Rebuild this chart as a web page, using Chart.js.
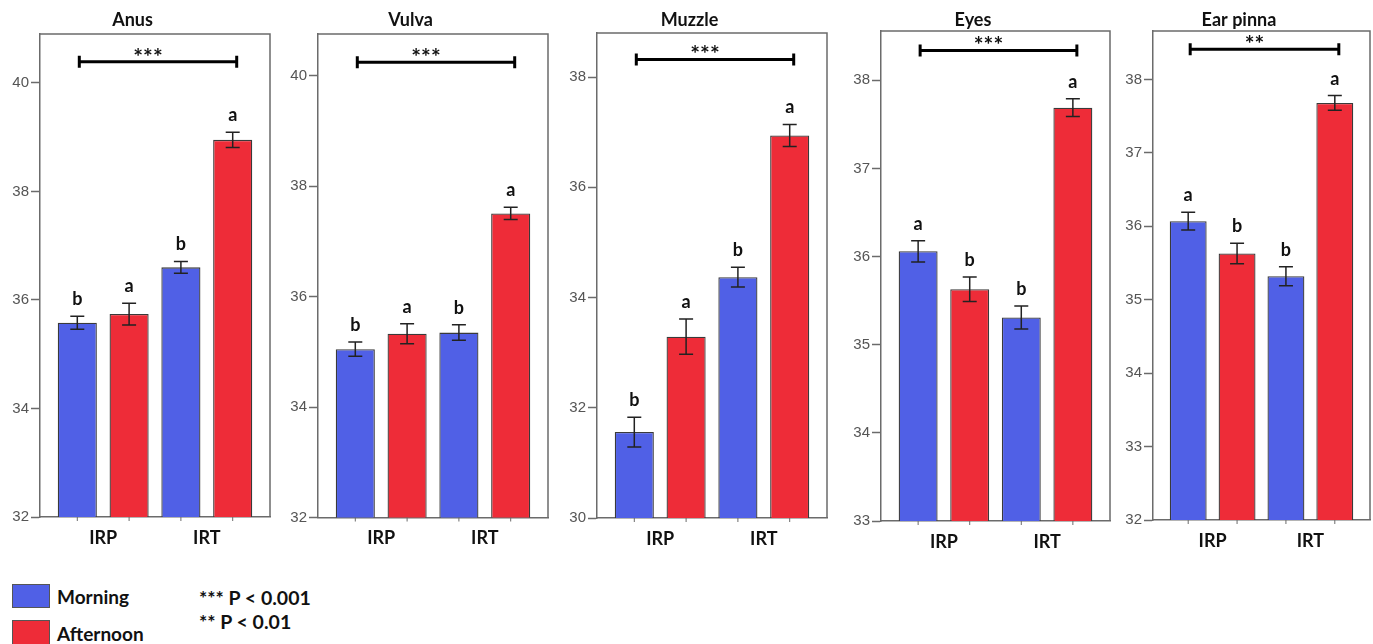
<!DOCTYPE html>
<html><head><meta charset="utf-8">
<script src="https://cdn.jsdelivr.net/npm/chart.js@4.4.0/dist/chart.umd.min.js"></script>
<style>
html,body{margin:0;padding:0;background:#fff;overflow:hidden;width:1373px;height:644px;}
#wrap{position:relative;width:1373px;height:644px;overflow:hidden;}
#wrap canvas{position:absolute;top:0;}
.sw{position:absolute;left:12px;width:38px;height:24px;box-sizing:border-box;border:1px solid #555;}
.lt{position:absolute;font-family:Lato,sans-serif;font-weight:bold;color:#111;white-space:nowrap;line-height:24px;}
</style></head><body><div id="wrap">
<div class="sw" style="top:584px;background:#5060E6"></div>
<div class="sw" style="top:620px;height:30px;background:#EE2C38"></div>
<div class="lt" id="lgM" style="left:57px;top:585px;font-size:19px"></div>
<div class="lt" id="lgA" style="left:57px;top:622px;font-size:19px"></div>
<div class="lt" id="lgP1" style="left:199px;top:586px;font-size:19.5px"></div>
<div class="lt" id="lgP2" style="left:199px;top:610px;font-size:19.5px"></div>
</div>
<script>
// ---------- data ----------
const panelTitles = ['Anus', 'Vulva', 'Muzzle', 'Eyes', 'Ear pinna'];
const categories = ['IRP', 'IRT'];
const seriesNames = ['Morning', 'Afternoon'];
const morningMean = [[35.58, 36.60], [35.05, 35.35], [31.56, 34.37], [36.06, 35.31], [36.07, 35.32]];
const afternoonMean = [[35.74, 38.95], [35.33, 37.51], [33.29, 36.94], [35.63, 37.69], [35.63, 37.68]];
const morningErr = [[0.12, 0.11], [0.13, 0.14], [0.27, 0.18], [0.12, 0.13], [0.12, 0.13]];
const afternoonErr = [[0.20, 0.14], [0.18, 0.11], [0.32, 0.20], [0.14, 0.10], [0.14, 0.10]];
const morningLetters = [['b', 'b'], ['b', 'b'], ['b', 'b'], ['a', 'b'], ['a', 'b']];
const afternoonLetters = [['a', 'a'], ['a', 'a'], ['a', 'a'], ['b', 'a'], ['b', 'a']];
const significance = ['***', '***', '***', '***', '**'];
const bracketLevel = [40.39, 40.25, 38.32, 38.34, 38.41];
const yMin = [32, 32, 30, 33, 32];
const yMax = [40.90, 40.76, 38.80, 38.56, 38.66];
const yStep = [2, 2, 2, 1, 1];
const legendNotes = ['*** P < 0.001', '** P < 0.01'];

// ---------- layout / style ----------
const layoutBoxes = [
  {left: 40, right: 270, top: 34, bottom: 517},
  {left: 318, right: 548, top: 34, bottom: 517.5},
  {left: 597, right: 827, top: 33, bottom: 518},
  {left: 881, right: 1110, top: 31, bottom: 521},
  {left: 1153, right: 1370, top: 31, bottom: 520}
];
const BLUE = '#5060E6', RED = '#EE2C38', AXIS = '#6b6b6b', INK = '#111';
const CH = 560, YW = 45, RP = 25;

document.getElementById('lgM').textContent = seriesNames[0];
document.getElementById('lgA').textContent = seriesNames[1];
document.getElementById('lgP1').textContent = legendNotes[0];
document.getElementById('lgP2').textContent = legendNotes[1];

function makeDecor(p) {
  return {
    id: 'decor' + p,
    afterDraw(chart) {
      const ctx = chart.ctx, a = chart.chartArea, x = chart.scales.x, y = chart.scales.y;
      ctx.save();
      ctx.strokeStyle = AXIS; ctx.lineWidth = 1.5;
      ctx.beginPath();
      ctx.moveTo(a.left, a.top); ctx.lineTo(a.right, a.top); ctx.lineTo(a.right, a.bottom);
      ctx.stroke();
      chart.data.datasets.forEach((ds, di) => {
        const meta = chart.getDatasetMeta(di);
        meta.data.forEach((bar, i) => {
          const m = ds.data[i].y, e = ds.errors[i];
          const yt = y.getPixelForValue(m + e), yb = y.getPixelForValue(m - e);
          const cx = bar.x;
          ctx.strokeStyle = '#222'; ctx.lineWidth = 1.5;
          ctx.beginPath();
          ctx.moveTo(cx, yt); ctx.lineTo(cx, yb);
          ctx.moveTo(cx - 7, yt); ctx.lineTo(cx + 7, yt);
          ctx.moveTo(cx - 7, yb); ctx.lineTo(cx + 7, yb);
          ctx.stroke();
          ctx.fillStyle = INK; ctx.font = 'bold 18px Lato'; ctx.textAlign = 'center'; ctx.textBaseline = 'alphabetic';
          ctx.fillText(ds.letters[i], cx, yt - 11);
          ctx.strokeStyle = AXIS; ctx.lineWidth = 1;
          ctx.beginPath(); ctx.moveTo(cx, a.bottom); ctx.lineTo(cx, a.bottom + 4); ctx.stroke();
        });
      });
      // significance bracket
      const x0 = x.getPixelForValue(0) + 2, x1 = x.getPixelForValue(3) + 4;
      const by = y.getPixelForValue(bracketLevel[p]);
      ctx.strokeStyle = '#000'; ctx.lineWidth = 3;
      ctx.beginPath();
      ctx.moveTo(x0, by); ctx.lineTo(x1, by);
      ctx.moveTo(x0, by - 6); ctx.lineTo(x0, by + 6);
      ctx.moveTo(x1, by - 6); ctx.lineTo(x1, by + 6);
      ctx.stroke();
      ctx.fillStyle = INK; ctx.font = 'bold 23px Lato'; ctx.textAlign = 'center'; ctx.textBaseline = 'alphabetic';
      ctx.fillText(significance[p], (x0 + x1) / 2 - 10, by + 3);
      ctx.restore();
    }
  };
}

const wrap = document.getElementById('wrap');
panelTitles.forEach((title, p) => {
  const L = layoutBoxes[p];
  const cv = document.createElement('canvas');
  const w = YW + (L.right - L.left) + RP;
  cv.width = w; cv.height = CH;
  cv.style.left = (L.left - YW) + 'px';
  cv.style.width = w + 'px'; cv.style.height = CH + 'px';
  wrap.appendChild(cv);
  new Chart(cv, {
    type: 'bar',
    data: {
      datasets: [
        {label: seriesNames[0], data: categories.map((c, i) => ({x: 2 * i, y: morningMean[p][i]})),
         errors: morningErr[p], letters: morningLetters[p], backgroundColor: BLUE},
        {label: seriesNames[1], data: categories.map((c, i) => ({x: 2 * i + 1, y: afternoonMean[p][i]})),
         errors: afternoonErr[p], letters: afternoonLetters[p], backgroundColor: RED}
      ]
    },
    options: {
      responsive: false, animation: false, devicePixelRatio: 1,
      grouped: false,
      categoryPercentage: 1, barPercentage: 0.755,
      borderColor: '#3a3a3a', borderWidth: 1.3,
      layout: {padding: {left: 0, right: RP, top: 0, bottom: 0}},
      plugins: {
        legend: {display: false}, tooltip: {enabled: false},
        title: {display: true, text: title, color: INK, font: {family: 'Lato', size: 18, weight: 'bold'},
                padding: {top: 9, bottom: L.top - 9 - 21.6}}
      },
      scales: {
        x: {
          type: 'linear', min: -0.72, max: 3.72, offset: false,
          afterBuildTicks(s) { s.ticks = categories.map((c, i) => ({value: 0.5 + 2 * i})); },
          ticks: {callback: (v) => categories[Math.round((v - 0.5) / 2)], color: INK,
                  font: {family: 'Lato', size: 18, weight: 'bold'}, padding: 10, autoSkip: false, maxRotation: 0},
          grid: {display: false, drawTicks: false, offset: false},
          border: {color: AXIS, width: 1.5},
          afterFit(s) { s.height = CH - L.bottom; }
        },
        y: {
          type: 'linear', min: yMin[p], max: yMax[p],
          ticks: {stepSize: yStep[p], includeBounds: false, color: '#555',
                  font: {family: 'Liberation Sans', size: 15}, padding: 2},
          grid: {drawOnChartArea: false, drawTicks: true, tickLength: 9, tickColor: AXIS, tickWidth: 1.5},
          border: {color: AXIS, width: 1.5},
          afterFit(s) { s.width = YW; }
        }
      }
    },
    plugins: [makeDecor(p)]
  });
});
</script>
</body></html>
